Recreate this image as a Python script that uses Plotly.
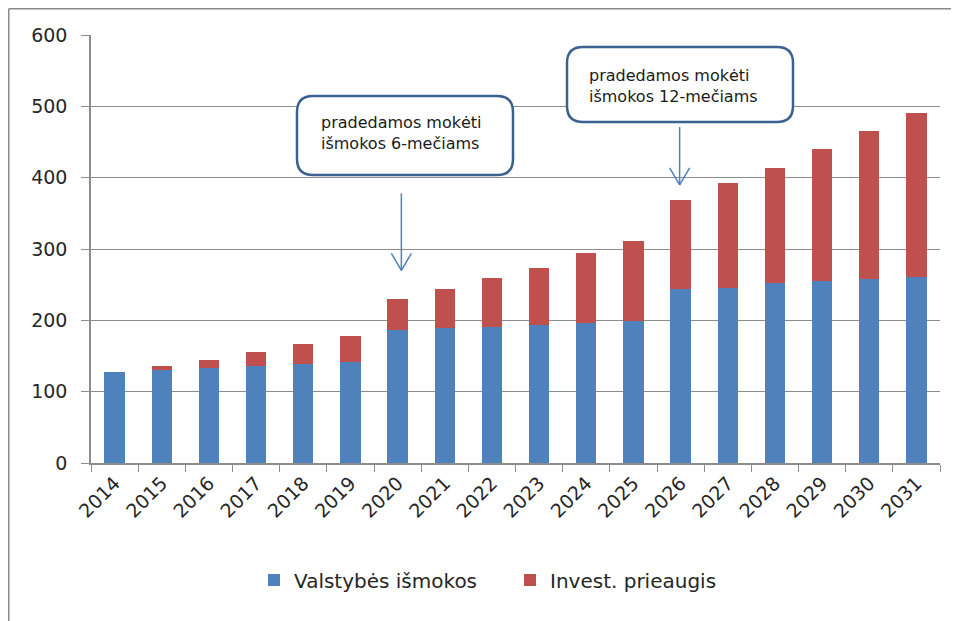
import plotly.graph_objects as go

years = [str(y) for y in range(2014, 2032)]
valstybes = [127, 130, 133, 136, 139, 142, 186, 189, 191, 194, 196, 199, 244, 246, 252, 255, 258, 261]
invest = [0, 6, 12, 20, 28, 36, 44, 55, 69, 80, 98, 112, 125, 146, 162, 185, 207, 229]
y_ticks = [0, 100, 200, 300, 400, 500, 600]

BLUE = '#4F81BD'
RED = '#C0504D'
GRID = '#8C8C8C'
BOX = '#3B6190'
FONT = 'DejaVu Sans'

# the page body has an 8px margin, so work in page pixels and shift
OFF = 8
W, H = 959 - OFF, 621 - OFF
L, R, T, B = 91 - OFF, 959 - 940, 35 - OFF, 621 - 463
PW, PH = W - L - R, H - T - B


def px_x(x):
    return (x - OFF - L) / PW


def px_y(y):
    return (H - B - (y - OFF)) / PH


def rounded_box(x0, y0, x1, y1, r):
    pts = [
        ('M', [(x0 + r, y0)]), ('L', [(x1 - r, y0)]), ('Q', [(x1, y0), (x1, y0 + r)]),
        ('L', [(x1, y1 - r)]), ('Q', [(x1, y1), (x1 - r, y1)]), ('L', [(x0 + r, y1)]),
        ('Q', [(x0, y1), (x0, y1 - r)]), ('L', [(x0, y0 + r)]), ('Q', [(x0, y0), (x0 + r, y0)]),
    ]
    path = ''
    for cmd, p in pts:
        path += cmd + ' ' + ' '.join(f'{px_x(a):.5f},{px_y(b):.5f}' for a, b in p) + ' '
    return path + 'Z'


fig = go.Figure()
fig.add_trace(go.Bar(x=years, y=valstybes, name='Valstybės išmokos',
                     marker=dict(color=BLUE, line=dict(width=0))))
fig.add_trace(go.Bar(x=years, y=invest, name='Invest. prieaugis',
                     marker=dict(color=RED, line=dict(width=0))))

shapes = []
# outer frame (only top and left edges visible)
shapes.append(dict(type='line', xref='paper', yref='paper', x0=px_x(8.75), x1=px_x(962),
                   y0=px_y(8.75), y1=px_y(8.75), line=dict(color='#8A8A8A', width=1.5)))
shapes.append(dict(type='line', xref='paper', yref='paper', x0=px_x(8.75), x1=px_x(8.75),
                   y0=px_y(8.75), y1=px_y(624), line=dict(color='#8A8A8A', width=1.5)))

# callout boxes
for (x0, y0, x1, y1) in [(297, 96, 513, 175), (567, 47, 793, 122)]:
    shapes.append(dict(type='path', xref='paper', yref='paper',
                       path=rounded_box(x0, y0, x1, y1, 16),
                       fillcolor='white', line=dict(color=BOX, width=2.5), layer='above'))

# arrows (category position, tip value, top value)
px_cat = PW / len(years)
px_unit = PH / 600
for xc, tip, top in [(6.08, 270, 378), (11.98, 390, 471)]:
    dx = 10 / px_cat
    dy = 17 / px_unit
    for seg in [(xc, top, xc, tip), (xc - dx, tip + dy, xc, tip), (xc + dx, tip + dy, xc, tip)]:
        shapes.append(dict(type='line', xref='x', yref='y', x0=seg[0], y0=seg[1],
                           x1=seg[2], y1=seg[3], line=dict(color=BLUE, width=1.5)))

annotations = [
    dict(xref='paper', yref='paper', x=px_x(319), y=px_y(133), xanchor='left', yanchor='middle',
         text='pradedamos mokėti<br>išmokos 6-mečiams', showarrow=False, align='left',
         font=dict(family=FONT, size=16, color='#1A1A1A')),
    dict(xref='paper', yref='paper', x=px_x(587), y=px_y(86), xanchor='left', yanchor='middle',
         text='pradedamos mokėti<br>išmokos 12-mečiams', showarrow=False, align='left',
         font=dict(family=FONT, size=16, color='#1A1A1A')),
]

fig.update_layout(
    width=W, height=H,
    margin=dict(l=L, r=R, t=T, b=B),
    barmode='stack',
    bargap=0.57,
    paper_bgcolor='white',
    plot_bgcolor='white',
    font=dict(family=FONT, size=19, color='#262626'),
    shapes=shapes,
    annotations=annotations,
    legend=dict(orientation='h', x=px_x(510), xanchor='center', y=px_y(580), yanchor='middle',
                font=dict(family=FONT, size=20, color='#262626'), traceorder='normal',
                entrywidth=211),
    xaxis=dict(type='category', tickangle=-45, showline=True, linecolor=GRID, linewidth=1.5,
               ticks='outside', tickson='boundaries', ticklen=7, tickcolor=GRID,
               showgrid=False, tickfont=dict(size=19)),
    yaxis=dict(range=[0, 600], tickvals=y_ticks, showline=True, linecolor=GRID, linewidth=1.5,
               ticks='outside', ticklen=8, tickcolor=GRID, showgrid=True, gridcolor=GRID,
               gridwidth=1, zeroline=False, tickfont=dict(size=19), ticklabelstandoff=10),
)

fig.write_html("out.html")
